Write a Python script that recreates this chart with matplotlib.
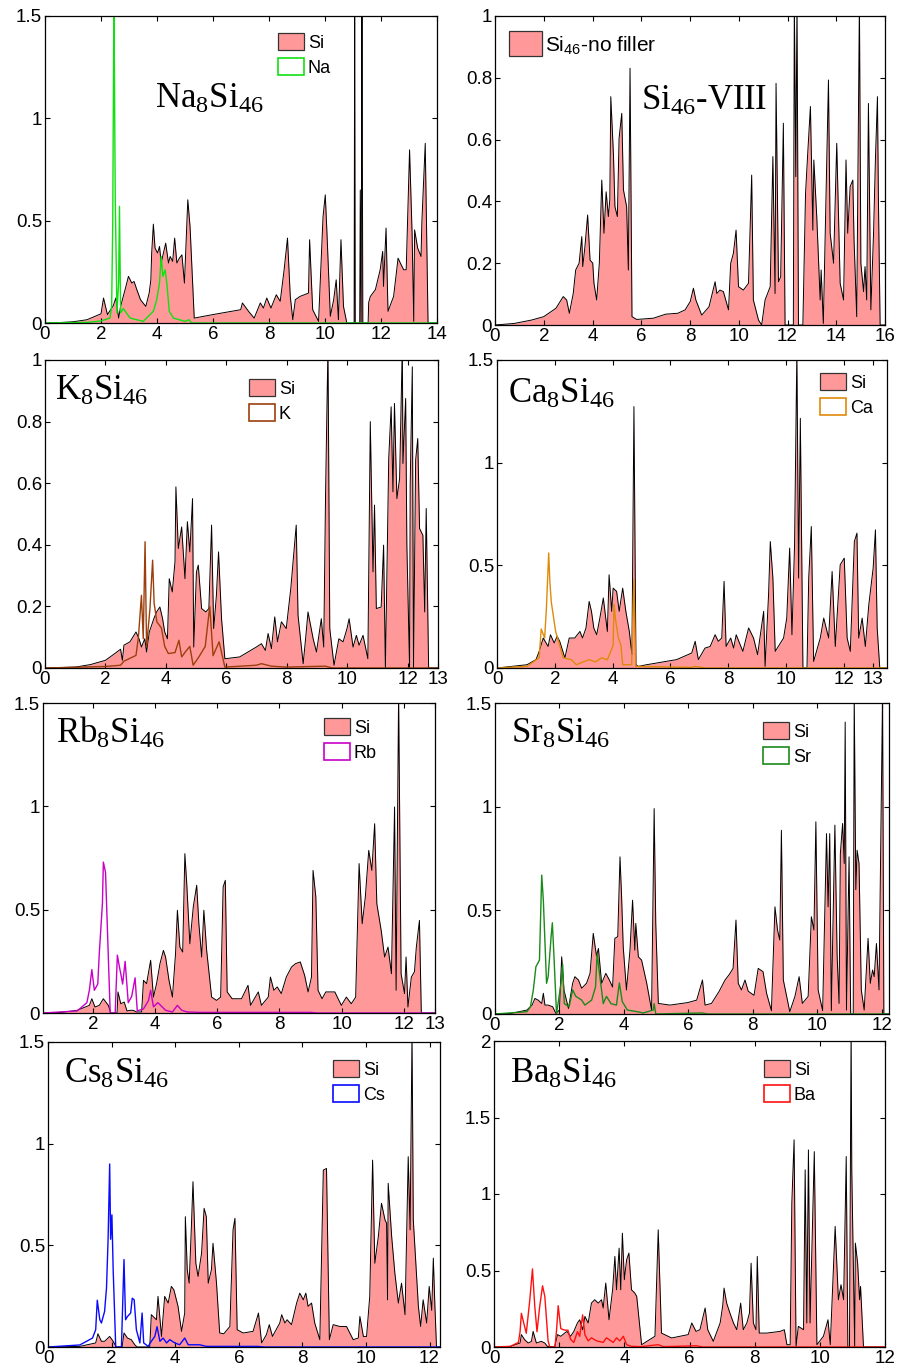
import numpy as np
import matplotlib
matplotlib.use("Agg")
import matplotlib.pyplot as plt
from matplotlib.patches import Patch

plt.rcParams["font.family"] = ["Liberation Sans", "DejaVu Sans"]
plt.rcParams["mathtext.fontset"] = "custom"
plt.rcParams["mathtext.rm"] = "Liberation Serif"
plt.rcParams["mathtext.sf"] = "Liberation Sans"
plt.rcParams["mathtext.it"] = "Liberation Serif:italic"

# ---- data: (frequency, DOS) pairs ----
na_si = [(0, 0), (0.5, 0.002), (1.0, 0.006), (1.5, 0.016), (2.0, 0.045), (2.09, 0.122), (2.23, 0.041),
         (2.44, 0.085), (2.53, 0.122), (2.63, 0.024), (2.70, 0.081), (2.86, 0.163), (2.98, 0.228), (3.10, 0.195),
         (3.18, 0.203), (3.28, 0.163), (3.41, 0.114), (3.60, 0.081), (3.72, 0.146), (3.78, 0.211), (3.81, 0.342),
         (3.87, 0.483), (3.93, 0.366), (4.02, 0.342), (4.09, 0.374), (4.15, 0.293), (4.23, 0.342), (4.31, 0.39),
         (4.41, 0.293), (4.47, 0.325), (4.56, 0.301), (4.63, 0.415), (4.71, 0.293), (4.80, 0.317), (4.89, 0.333),
         (4.98, 0.195), (5.10, 0.602), (5.18, 0.472), (5.33, 0.024), (5.99, 0.041), (6.99, 0.065), (7.05, 0.098),
         (7.27, 0.057), (7.47, 0.024), (7.69, 0.098), (7.80, 0.073), (7.92, 0.122), (8.07, 0.073), (8.26, 0.138),
         (8.40, 0.106), (8.54, 0.26), (8.66, 0.415), (8.76, 0.13), (8.85, 0.016), (8.94, 0.114), (9.11, 0.13),
         (9.26, 0.138), (9.41, 0.146), (9.45, 0.407), (9.56, 0.065), (9.77, 0.008), (9.93, 0.52), (10.01, 0.626),
         (10.07, 0.44), (10.19, 0.033), (10.31, 0.114), (10.40, 0.211), (10.48, 0.016), (10.57, 0.407),
         (10.66, 0.081), (10.78, 0.0), (11.04, 0.0), (11.06, 1.6), (11.08, 0.0), (11.24, 0.0), (11.26, 0.65),
         (11.29, 0.0), (11.32, 1.6), (11.35, 0.0), (11.54, 0.0), (11.56, 0.1), (11.62, 0.13), (11.80, 0.163),
         (11.97, 0.26), (12.06, 0.35), (12.09, 0.179), (12.18, 0.464), (12.25, 0.057), (12.45, 0.13),
         (12.61, 0.317), (12.69, 0.293), (12.81, 0.26), (12.90, 0.26), (13.02, 0.846), (13.11, 0.44),
         (13.17, 0.008), (13.20, 0.455), (13.31, 0.366), (13.43, 0.325), (13.46, 0.496), (13.58, 0.878),
         (13.68, 0.0), (14, 0)]
na_na = [(0, 0), (1.5, 0.003), (2.0, 0.01), (2.32, 0.024), (2.38, 0.08), (2.42, 0.5), (2.46, 1.6), (2.51, 0.6),
         (2.57, 0.05), (2.63, 0.2), (2.66, 0.57), (2.70, 0.05), (2.80, 0.07), (3.04, 0.024), (3.51, 0.008),
         (3.69, 0.033), (3.87, 0.057), (3.99, 0.114), (4.09, 0.195), (4.15, 0.325), (4.21, 0.228), (4.29, 0.26),
         (4.35, 0.195), (4.44, 0.057), (4.59, 0.024), (5.00, 0.008), (5.14, 0.016), (5.24, 0.0), (14, 0)]

si46_si = [(0, 0), (0.79, 0.005), (1.50, 0.016), (2.0, 0.027), (2.50, 0.054), (2.80, 0.092), (2.94, 0.081),
           (3.05, 0.038), (3.21, 0.102), (3.31, 0.178), (3.45, 0.2), (3.56, 0.286), (3.60, 0.189), (3.69, 0.254),
           (3.80, 0.356), (3.90, 0.21), (4.01, 0.2), (4.06, 0.135), (4.17, 0.081), (4.28, 0.2), (4.38, 0.469),
           (4.47, 0.297), (4.56, 0.431), (4.65, 0.351), (4.71, 0.405), (4.75, 0.739), (4.86, 0.55), (4.92, 0.383),
           (5.02, 0.351), (5.09, 0.604), (5.20, 0.685), (5.27, 0.437), (5.40, 0.383), (5.47, 0.178), (5.54, 0.831),
           (5.62, 0.027), (5.81, 0.018), (6.50, 0.022), (7.00, 0.035), (7.50, 0.038), (7.80, 0.049), (8.01, 0.076),
           (8.14, 0.119), (8.24, 0.081), (8.48, 0.032), (8.78, 0.059), (9.03, 0.14), (9.10, 0.102), (9.23, 0.113),
           (9.37, 0.108), (9.58, 0.049), (9.67, 0.2), (9.78, 0.232), (9.89, 0.307), (9.99, 0.124), (10.19, 0.113),
           (10.40, 0.135), (10.53, 0.485), (10.60, 0.081), (10.81, 0.016), (10.94, 0.0), (11.08, 0.081),
           (11.29, 0.124), (11.40, 0.545), (11.49, 0.102), (11.53, 0.782), (11.63, 0.14), (11.72, 0.156),
           (11.83, 0.653), (11.90, 0.0), (12.24, 0.0), (12.28, 1.05), (12.34, 0.48), (12.39, 1.05), (12.45, 0.0),
           (12.63, 0.0), (12.74, 0.426), (12.83, 0.556), (12.94, 0.707), (13.04, 0.307), (13.08, 0.534),
           (13.20, 0.351), (13.34, 0.081), (13.38, 0.178), (13.47, 0.005), (13.68, 0.793), (13.75, 0.297),
           (13.89, 0.2), (14.02, 0.588), (14.16, 0.135), (14.30, 0.081), (14.40, 0.534), (14.47, 0.297),
           (14.57, 0.448), (14.68, 0.469), (14.73, 0.275), (14.84, 0.027), (14.95, 1.05), (15.01, 0.2),
           (15.12, 0.108), (15.18, 0.189), (15.25, 0.081), (15.32, 0.717), (15.42, 0.049), (15.53, 0.297),
           (15.61, 0.545), (15.69, 0.739), (15.73, 0.405), (15.80, 0.0), (16, 0)]

k_si = [(0, 0), (1.0, 0.003), (1.5, 0.011), (2.0, 0.025), (2.31, 0.047), (2.50, 0.061), (2.56, 0.025), (2.61, 0.074),
        (2.81, 0.085), (3.01, 0.117), (3.11, 0.095), (3.19, 0.068), (3.30, 0.095), (3.36, 0.052), (3.45, 0.117),
        (3.60, 0.16), (3.69, 0.182), (3.80, 0.198), (3.89, 0.16), (3.96, 0.117), (4.05, 0.095), (4.11, 0.29),
        (4.21, 0.247), (4.30, 0.345), (4.33, 0.588), (4.41, 0.388), (4.52, 0.458), (4.63, 0.29), (4.71, 0.475),
        (4.79, 0.377), (4.88, 0.55), (4.92, 0.068), (5.01, 0.312), (5.07, 0.334), (5.18, 0.193), (5.32, 0.182),
        (5.42, 0.193), (5.51, 0.464), (5.58, 0.128), (5.67, 0.236), (5.74, 0.377), (5.84, 0.16), (5.95, 0.03),
        (6.44, 0.036), (6.99, 0.068), (7.16, 0.079), (7.29, 0.057), (7.38, 0.112), (7.49, 0.063), (7.60, 0.166),
        (7.69, 0.085), (7.82, 0.15), (7.98, 0.128), (8.13, 0.258), (8.31, 0.464), (8.37, 0.171), (8.54, 0.014),
        (8.62, 0.095), (8.70, 0.182), (8.87, 0.095), (8.98, 0.052), (9.14, 0.16), (9.22, 0.068), (9.28, 0.561),
        (9.36, 1.05), (9.42, 0.128), (9.56, 0.009), (9.72, 0.095), (9.86, 0.085), (9.99, 0.128), (10.06, 0.16),
        (10.19, 0.068), (10.30, 0.106), (10.39, 0.074), (10.52, 0.106), (10.68, 0.03), (10.76, 0.8),
        (10.85, 0.312), (10.90, 0.529), (10.96, 0.193), (11.12, 0.198), (11.20, 0.399), (11.26, 0.0),
        (11.37, 0.68), (11.45, 0.848), (11.51, 0.572), (11.56, 0.859), (11.64, 0.55), (11.73, 0.615),
        (11.82, 1.05), (11.84, 0.664), (11.93, 0.875), (11.97, 0.399), (12.06, 0.0), (12.08, 0.594),
        (12.15, 0.978), (12.19, 0.0), (12.26, 0.675), (12.33, 0.745), (12.39, 0.453), (12.50, 0.431),
        (12.56, 0.182), (12.61, 0.518), (12.69, 0.0), (13, 0)]
k_k = [(0, 0), (2.0, 0.005), (2.50, 0.009), (2.61, 0.022), (3.01, 0.041), (3.09, 0.1), (3.19, 0.236), (3.25, 0.095),
       (3.31, 0.41), (3.36, 0.07), (3.47, 0.19), (3.56, 0.35), (3.61, 0.21), (3.70, 0.15), (3.85, 0.13), (3.96, 0.07),
       (4.08, 0.047), (4.30, 0.05), (4.43, 0.09), (4.52, 0.036), (4.68, 0.057), (4.79, 0.07), (4.90, 0.009),
       (5.09, 0.036), (5.30, 0.07), (5.45, 0.2), (5.56, 0.04), (5.76, 0.085), (5.84, 0.05), (5.95, 0.003),
       (6.99, 0.009), (7.16, 0.014), (7.49, 0.006), (7.98, 0.003), (9.28, 0.006), (9.50, 0.0), (13, 0)]

ca_si = [(0, 0), (1.04, 0.016), (1.35, 0.041), (1.46, 0.081), (1.60, 0.146), (1.77, 0.105), (1.85, 0.162),
         (1.98, 0.122), (2.08, 0.154), (2.17, 0.13), (2.35, 0.049), (2.50, 0.146), (2.69, 0.146), (2.87, 0.178),
         (2.96, 0.146), (3.08, 0.195), (3.19, 0.324), (3.27, 0.276), (3.35, 0.195), (3.45, 0.162), (3.56, 0.243),
         (3.68, 0.341), (3.82, 0.178), (3.88, 0.454), (3.97, 0.276), (4.02, 0.389), (4.14, 0.373), (4.23, 0.276),
         (4.35, 0.389), (4.46, 0.276), (4.58, 0.178), (4.67, 0.065), (4.74, 1.273), (4.81, 0.016), (4.89, 0.008),
         (5.18, 0.016), (6.22, 0.041), (6.74, 0.073), (6.86, 0.13), (6.97, 0.041), (7.20, 0.097), (7.38, 0.105),
         (7.55, 0.162), (7.66, 0.13), (7.78, 0.146), (7.86, 0.422), (7.93, 0.105), (8.09, 0.146), (8.19, 0.097),
         (8.28, 0.162), (8.51, 0.081), (8.71, 0.195), (8.88, 0.146), (9.02, 0.065), (9.23, 0.276), (9.28, 0.008),
         (9.40, 0.357), (9.46, 0.616), (9.55, 0.438), (9.63, 0.081), (9.92, 0.146), (10.03, 0.243),
         (10.13, 0.584), (10.21, 0.162), (10.30, 0.6), (10.38, 1.55), (10.44, 0.438), (10.50, 1.216),
         (10.59, 0.0), (10.73, 0.0), (10.79, 0.438), (10.88, 0.689), (10.96, 0.032), (11.19, 0.146),
         (11.31, 0.243), (11.48, 0.146), (11.60, 0.47), (11.71, 0.105), (11.88, 0.503), (12.02, 0.535),
         (12.12, 0.146), (12.23, 0.081), (12.37, 0.616), (12.46, 0.657), (12.52, 0.146), (12.64, 0.243),
         (12.75, 0.105), (12.87, 0.308), (13.02, 0.486), (13.10, 0.673), (13.16, 0.195), (13.25, 0.0), (13.5, 0)]
ca_ca = [(0, 0), (1.04, 0.008), (1.46, 0.05), (1.53, 0.19), (1.65, 0.146), (1.71, 0.29), (1.79, 0.56), (1.83, 0.42),
         (1.88, 0.32), (2.03, 0.178), (2.17, 0.11), (2.29, 0.05), (2.58, 0.04), (2.75, 0.016), (2.98, 0.03),
         (3.19, 0.04), (3.42, 0.03), (3.62, 0.05), (3.82, 0.04), (4.02, 0.11), (4.05, 0.31), (4.10, 0.24),
         (4.20, 0.146), (4.29, 0.11), (4.35, 0.016), (4.66, 0.016), (4.74, 0.43), (4.80, 0.008), (6.74, 0.003),
         (6.86, 0.008), (7.2, 0), (13.5, 0)]

rb_si = [(0.4, 0), (0.99, 0.003), (1.50, 0.013), (1.89, 0.037), (1.97, 0.069), (2.07, 0.029), (2.21, 0.037),
         (2.34, 0.069), (2.50, 0.037), (2.58, 0.0), (2.78, 0.0), (2.81, 0.102), (2.90, 0.045), (3.01, 0.053),
         (3.10, 0.01), (3.20, 0.013), (3.30, 0.013), (3.41, 0.005), (3.57, 0.005), (3.63, 0.158), (3.73, 0.142),
         (3.86, 0.255), (3.95, 0.077), (4.05, 0.142), (4.16, 0.239), (4.27, 0.303), (4.34, 0.271), (4.45, 0.158),
         (4.56, 0.077), (4.66, 0.287), (4.72, 0.497), (4.80, 0.319), (4.89, 0.295), (4.96, 0.771), (5.02, 0.626),
         (5.12, 0.335), (5.23, 0.513), (5.34, 0.618), (5.41, 0.432), (5.50, 0.271), (5.57, 0.497), (5.66, 0.303),
         (5.82, 0.077), (5.98, 0.061), (6.11, 0.077), (6.19, 0.61), (6.26, 0.642), (6.32, 0.102), (6.48, 0.069),
         (6.78, 0.069), (6.99, 0.134), (7.07, 0.037), (7.32, 0.102), (7.42, 0.037), (7.64, 0.077), (7.71, 0.174),
         (7.82, 0.11), (7.93, 0.126), (8.06, 0.094), (8.22, 0.174), (8.39, 0.223), (8.52, 0.239), (8.67, 0.247),
         (8.81, 0.182), (8.92, 0.102), (9.03, 0.174), (9.08, 0.69), (9.17, 0.561), (9.24, 0.11), (9.37, 0.069),
         (9.49, 0.102), (9.78, 0.102), (9.99, 0.037), (10.15, 0.077), (10.31, 0.045), (10.45, 0.077),
         (10.56, 0.723), (10.66, 0.432), (10.76, 0.561), (10.87, 0.787), (10.97, 0.69), (11.06, 0.916),
         (11.13, 0.529), (11.27, 0.4), (11.38, 0.271), (11.49, 0.319), (11.60, 0.19), (11.70, 0.997),
         (11.75, 0.11), (11.83, 1.55), (11.91, 0.19), (12.02, 0.094), (12.07, 0.271), (12.13, 0.029),
         (12.24, 0.174), (12.34, 0.2), (12.40, 0.319), (12.50, 0.448), (12.56, 0.0), (13, 0)]
rb_rb = [(0.4, 0), (1.50, 0.01), (1.81, 0.05), (1.89, 0.11), (1.97, 0.21), (2.05, 0.11), (2.16, 0.14), (2.21, 0.29),
         (2.31, 0.53), (2.34, 0.73), (2.41, 0.68), (2.50, 0.27), (2.56, 0.0), (2.72, 0.0), (2.79, 0.28), (2.86, 0.22),
         (2.90, 0.19), (2.96, 0.14), (3.04, 0.25), (3.14, 0.05), (3.25, 0.08), (3.36, 0.17), (3.43, 0.01),
         (3.63, 0.02), (3.79, 0.06), (3.86, 0.11), (3.95, 0.03), (4.09, 0.05), (4.16, 0.04), (4.34, 0.013),
         (4.56, 0.005), (4.72, 0.037), (4.86, 0.013), (5.04, 0.005), (5.44, 0.003), (9.03, 0.003), (9.2, 0), (13, 0)]

sr_si = [(0, 0), (0.50, 0.003), (0.99, 0.019), (1.15, 0.043), (1.24, 0.075), (1.34, 0.067), (1.45, 0.051),
         (1.50, 0.1), (1.55, 0.043), (1.65, 0.043), (1.79, 0.035), (1.89, 0.003), (2.0, 0.019), (2.07, 0.276),
         (2.14, 0.116), (2.28, 0.027), (2.41, 0.148), (2.48, 0.18), (2.59, 0.164), (2.69, 0.124), (2.84, 0.148),
         (2.95, 0.196), (3.05, 0.389), (3.15, 0.28), (3.21, 0.316), (3.31, 0.148), (3.44, 0.196), (3.55, 0.164),
         (3.65, 0.13), (3.72, 0.365), (3.81, 0.373), (3.88, 0.758), (3.93, 0.565), (3.98, 0.324), (4.08, 0.116),
         (4.19, 0.308), (4.27, 0.549), (4.34, 0.308), (4.37, 0.437), (4.45, 0.276), (4.55, 0.26), (4.71, 0.148),
         (4.86, 0.019), (4.94, 0.991), (4.99, 0.437), (5.07, 0.051), (5.43, 0.043), (5.98, 0.055), (6.26, 0.067),
         (6.44, 0.164), (6.52, 0.043), (6.72, 0.051), (6.96, 0.11), (7.14, 0.164), (7.27, 0.19), (7.39, 0.22),
         (7.48, 0.453), (7.55, 0.148), (7.65, 0.116), (7.76, 0.164), (7.86, 0.11), (8.04, 0.09), (8.17, 0.22),
         (8.32, 0.204), (8.43, 0.1), (8.58, 0.016), (8.69, 0.517), (8.77, 0.405), (8.84, 0.357), (8.89, 0.886),
         (8.95, 0.164), (9.15, 0.011), (9.31, 0.085), (9.44, 0.18), (9.54, 0.051), (9.72, 0.085), (9.82, 0.469),
         (9.90, 0.405), (9.96, 0.927), (10.03, 0.116), (10.17, 0.016), (10.29, 0.87), (10.34, 0.517),
         (10.39, 0.87), (10.44, 0.016), (10.55, 0.911), (10.62, 0.28), (10.68, 0.051), (10.72, 0.774),
         (10.79, 0.919), (10.84, 0.726), (10.87, 1.408), (10.91, 0.019), (10.99, 0.758), (11.04, 0.0),
         (11.12, 0.0), (11.15, 1.55), (11.20, 0.6), (11.24, 0.79), (11.30, 0.726), (11.37, 0.116), (11.46, 0.019),
         (11.58, 0.365), (11.65, 0.148), (11.72, 0.212), (11.77, 0.18), (11.84, 0.34), (11.92, 0.116),
         (12.03, 1.55), (12.07, 0.0), (12.23, 0)]
sr_sr = [(0, 0), (0.99, 0.011), (1.10, 0.035), (1.19, 0.116), (1.27, 0.228), (1.38, 0.26), (1.45, 0.67), (1.50, 0.55),
         (1.60, 0.148), (1.65, 0.18), (1.74, 0.37), (1.78, 0.44), (1.83, 0.28), (1.91, 0.0), (2.05, 0.15),
         (2.10, 0.24), (2.15, 0.05), (2.30, 0.035), (2.41, 0.116), (2.51, 0.085), (2.69, 0.067), (2.79, 0.043),
         (3.0, 0.067), (3.12, 0.13), (3.17, 0.29), (3.28, 0.15), (3.36, 0.05), (3.46, 0.085), (3.60, 0.05),
         (3.77, 0.043), (3.86, 0.15), (3.95, 0.06), (4.11, 0.019), (4.42, 0.011), (4.60, 0.005), (4.91, 0.019),
         (4.94, 0.05), (4.99, 0.0), (6.43, 0.005), (6.6, 0), (12.23, 0)]

cs_si = [(0, 0), (1.0, 0.003), (1.50, 0.02), (1.57, 0.065), (1.68, 0.028), (1.78, 0.028), (1.94, 0.052),
         (2.05, 0.028), (2.15, 0.0), (2.33, 0.0), (2.39, 0.069), (2.50, 0.044), (2.62, 0.036), (2.73, 0.011),
         (2.80, 0.0), (3.20, 0.0), (3.25, 0.159), (3.41, 0.134), (3.46, 0.249), (3.57, 0.052), (3.67, 0.249),
         (3.78, 0.216), (3.88, 0.298), (3.96, 0.281), (4.09, 0.2), (4.20, 0.077), (4.30, 0.167), (4.32, 0.641),
         (4.38, 0.38), (4.44, 0.314), (4.51, 0.592), (4.56, 0.813), (4.65, 0.412), (4.72, 0.347), (4.83, 0.461),
         (4.91, 0.682), (4.98, 0.641), (5.04, 0.314), (5.14, 0.38), (5.19, 0.51), (5.30, 0.314), (5.40, 0.069),
         (5.53, 0.065), (5.72, 0.101), (5.82, 0.576), (5.88, 0.633), (5.95, 0.085), (6.14, 0.069), (6.45, 0.077),
         (6.62, 0.167), (6.72, 0.02), (6.87, 0.061), (6.96, 0.11), (7.06, 0.052), (7.29, 0.118), (7.35, 0.159),
         (7.45, 0.118), (7.52, 0.134), (7.66, 0.11), (7.82, 0.216), (7.92, 0.265), (8.03, 0.232), (8.11, 0.265),
         (8.18, 0.2), (8.29, 0.216), (8.39, 0.118), (8.55, 0.036), (8.66, 0.87), (8.76, 0.878), (8.85, 0.036),
         (8.97, 0.11), (9.18, 0.101), (9.39, 0.101), (9.60, 0.036), (9.76, 0.044), (9.81, 0.15), (9.92, 0.052),
         (10.02, 0.052), (10.12, 0.249), (10.21, 0.919), (10.28, 0.412), (10.39, 0.543), (10.49, 0.707),
         (10.60, 0.625), (10.65, 0.609), (10.68, 0.232), (10.70, 0.805), (10.81, 0.543), (10.91, 0.363),
         (11.02, 0.216), (11.12, 0.314), (11.23, 0.159), (11.33, 0.936), (11.39, 0.576), (11.45, 1.55),
         (11.49, 0.625), (11.57, 0.412), (11.65, 0.2), (11.72, 0.101), (11.80, 0.232), (11.91, 0.118),
         (11.99, 0.298), (12.07, 0.18), (12.12, 0.437), (12.17, 0.2), (12.22, 0.0), (12.33, 0)]
cs_cs = [(0, 0), (1.0, 0.01), (1.40, 0.044), (1.50, 0.085), (1.55, 0.23), (1.63, 0.134), (1.68, 0.118), (1.78, 0.175),
         (1.84, 0.29), (1.89, 0.53), (1.94, 0.9), (1.97, 0.53), (2.01, 0.65), (2.05, 0.38), (2.13, 0.0), (2.31, 0.0),
         (2.39, 0.43), (2.44, 0.134), (2.50, 0.15), (2.60, 0.167), (2.65, 0.24), (2.71, 0.232), (2.78, 0.085),
         (2.89, 0.02), (2.96, 0.167), (3.01, 0.02), (3.15, 0.003), (3.25, 0.028), (3.36, 0.052), (3.43, 0.1),
         (3.52, 0.028), (3.62, 0.044), (3.73, 0.02), (3.83, 0.036), (3.99, 0.02), (4.14, 0.011), (4.30, 0.044),
         (4.41, 0.011), (4.77, 0.011), (4.98, 0.003), (6.6, 0.003), (6.8, 0), (12.33, 0)]

ba_si = [(0, 0), (0.50, 0.004), (0.80, 0.026), (0.84, 0.081), (0.94, 0.048), (1.05, 0.026), (1.15, 0.037),
         (1.20, 0.102), (1.30, 0.026), (1.45, 0.037), (1.56, 0.026), (1.64, 0.004), (1.86, 0.0), (1.95, 0.081),
         (2.05, 0.07), (2.17, 0.091), (2.24, 0.102), (2.35, 0.07), (2.45, 0.102), (2.56, 0.157), (2.63, 0.178),
         (2.72, 0.113), (2.79, 0.2), (2.89, 0.157), (2.99, 0.287), (3.09, 0.309), (3.20, 0.287), (3.30, 0.309),
         (3.35, 0.255), (3.43, 0.418), (3.53, 0.178), (3.64, 0.374), (3.71, 0.592), (3.76, 0.374), (3.84, 0.646),
         (3.89, 0.374), (3.94, 0.744), (4.0, 0.44), (4.07, 0.57), (4.14, 0.614), (4.22, 0.374), (4.32, 0.353),
         (4.38, 0.331), (4.53, 0.015), (4.94, 0.07), (5.04, 0.766), (5.14, 0.091), (5.45, 0.059), (5.96, 0.081),
         (6.07, 0.157), (6.20, 0.102), (6.32, 0.113), (6.48, 0.255), (6.56, 0.113), (6.73, 0.037), (6.94, 0.157),
         (7.02, 0.27), (7.06, 0.385), (7.14, 0.287), (7.24, 0.222), (7.35, 0.157), (7.45, 0.113), (7.57, 0.287),
         (7.65, 0.113), (7.76, 0.157), (7.84, 0.222), (7.89, 0.548), (7.96, 0.157), (8.04, 0.113), (8.08, 0.592),
         (8.14, 0.091), (8.37, 0.091), (8.78, 0.102), (8.91, 0.113), (8.99, 0.015), (9.09, 0.015), (9.14, 0.94),
         (9.21, 1.354), (9.27, 0.004), (9.34, 0.135), (9.50, 0.113), (9.55, 1.158), (9.60, 0.157), (9.65, 1.288),
         (9.70, 0.157), (9.83, 1.277), (9.91, 0.015), (10.11, 0.07), (10.25, 0.178), (10.32, 0.015),
         (10.47, 0.788), (10.57, 0.309), (10.65, 0.407), (10.73, 0.309), (10.81, 1.245), (10.86, 0.0),
         (10.91, 0.0), (10.96, 2.1), (10.98, 1.158), (11.07, 0.004), (11.09, 0.679), (11.16, 0.548),
         (11.22, 0.309), (11.25, 0.396), (11.34, 0.0), (12, 0)]
ba_ba = [(0, 0), (0.5, 0.004), (0.75, 0.03), (0.80, 0.1), (0.84, 0.22), (0.99, 0.09), (1.10, 0.31), (1.18, 0.51),
         (1.25, 0.27), (1.32, 0.1), (1.40, 0.26), (1.49, 0.4), (1.56, 0.33), (1.66, 0.04), (1.71, 0.0), (1.87, 0.0),
         (1.92, 0.11), (1.97, 0.27), (2.05, 0.12), (2.17, 0.11), (2.27, 0.11), (2.35, 0.05), (2.45, 0.03),
         (2.56, 0.1), (2.63, 0.07), (2.72, 0.21), (2.79, 0.08), (2.89, 0.04), (2.99, 0.06), (3.15, 0.04),
         (3.35, 0.03), (3.45, 0.06), (3.66, 0.03), (3.76, 0.06), (3.86, 0.04), (3.97, 0.07), (4.07, 0.015),
         (4.22, 0.004), (4.5, 0.002), (5.04, 0.015), (5.2, 0.002), (6.2, 0.008), (6.4, 0.0), (12, 0)]

# ---- panel setup: name, Si data, filler data, filler label, colour, limits, ticks ----
W, H = 901, 1367
PINK = "#ff9999"
panels = [
    dict(title=r"$\mathrm{Na_8Si_{46}}$", si=na_si, fil=na_na, lab="Na", col="#10e010",
         xlim=(0, 14), ylim=(0, 1.5), xt=[0, 2, 4, 6, 8, 10, 12, 14], yt=[0, 0.5, 1, 1.5],
         box=(45, 16, 437, 323), tpos=(155, 108), lpos=(278, 33)),
    dict(title=r"$\mathrm{Si_{46}}$-VIII", si=si46_si, fil=None, lab=None, col=None,
         xlim=(0, 16), ylim=(0, 1), xt=[0, 2, 4, 6, 8, 10, 12, 14, 16], yt=[0, 0.2, 0.4, 0.6, 0.8, 1],
         box=(495, 16, 885, 325), tpos=(641, 110), lpos=(509, 31)),
    dict(title=r"$\mathrm{K_8Si_{46}}$", si=k_si, fil=k_k, lab="K", col="#9c3f0c",
         xlim=(0, 13), ylim=(0, 1), xt=[0, 2, 4, 6, 8, 10, 12, 13], yt=[0, 0.2, 0.4, 0.6, 0.8, 1],
         box=(45, 360, 438, 668), tpos=(55, 400), lpos=(249, 379)),
    dict(title=r"$\mathrm{Ca_8Si_{46}}$", si=ca_si, fil=ca_ca, lab="Ca", col="#e08a0a",
         xlim=(0, 13.5), ylim=(0, 1.5), xt=[0, 2, 4, 6, 8, 10, 12, 13], yt=[0, 0.5, 1, 1.5],
         box=(497, 360, 887, 668), tpos=(508, 403), lpos=(820, 373)),
    dict(title=r"$\mathrm{Rb_8Si_{46}}$", si=rb_si, fil=rb_rb, lab="Rb", col="#c800c8",
         xlim=(0.4, 13), ylim=(0, 1.5), xt=[2, 4, 6, 8, 10, 12, 13], yt=[0, 0.5, 1, 1.5],
         box=(43, 703, 435, 1013), tpos=(56, 743), lpos=(324, 718)),
    dict(title=r"$\mathrm{Sr_8Si_{46}}$", si=sr_si, fil=sr_sr, lab="Sr", col="#1a8a1a",
         xlim=(0, 12.23), ylim=(0, 1.5), xt=[0, 2, 4, 6, 8, 10, 12], yt=[0, 0.5, 1, 1.5],
         box=(495, 703, 889, 1014), tpos=(511, 743), lpos=(763, 722)),
    dict(title=r"$\mathrm{Cs_8Si_{46}}$", si=cs_si, fil=cs_cs, lab="Cs", col="#0a0aff",
         xlim=(0, 12.33), ylim=(0, 1.5), xt=[0, 2, 4, 6, 8, 10, 12], yt=[0, 0.5, 1, 1.5],
         box=(48, 1042, 440, 1347), tpos=(64, 1083), lpos=(333, 1060)),
    dict(title=r"$\mathrm{Ba_8Si_{46}}$", si=ba_si, fil=ba_ba, lab="Ba", col="#ff1010",
         xlim=(0, 12), ylim=(0, 2), xt=[0, 2, 4, 6, 8, 10, 12], yt=[0, 0.5, 1, 1.5, 2],
         box=(494, 1041, 885, 1347), tpos=(510, 1083), lpos=(764, 1060)),
]

fig = plt.figure(figsize=(W / 100, H / 100), dpi=100)

for p in panels:
    l, t, r, b = p["box"]
    ax = fig.add_axes([l / W, 1 - b / H, (r - l) / W, (b - t) / H])
    x, y = np.array(p["si"]).T
    ax.fill_between(x, y, color=PINK, lw=0)
    ax.plot(x, y, color="black", lw=0.7)
    handles = [Patch(facecolor=PINK, edgecolor="#333333", lw=0.9)]
    labels = ["Si"]
    if p["fil"] is not None:
        fx, fy = np.array(p["fil"]).T
        ax.plot(fx, fy, color=p["col"], lw=1.0)
        handles.append(Patch(facecolor="white", edgecolor=p["col"], lw=1.2))
        labels.append(p["lab"])
    ax.set_xlim(*p["xlim"])
    ax.set_ylim(*p["ylim"])
    ax.set_xticks(p["xt"])
    ax.set_xticklabels([f"{v:g}" for v in p["xt"]])
    ax.set_yticks(p["yt"])
    ax.set_yticklabels([f"{v:g}" for v in p["yt"]])
    ax.tick_params(direction="in", top=True, right=True, length=3.5, width=0.8,
                   labelsize=13.5, pad=2)
    for s in ax.spines.values():
        s.set_linewidth(0.9)

    # legend anchored at top-left of the first handle
    lx = (p["lpos"][0] - l) / (r - l)
    ly = (b - p["lpos"][1]) / (b - t)
    if p["fil"] is None:
        ax.legend(handles, [r"Si$_{\mathsf{46}}$-no filler"], loc="upper left", bbox_to_anchor=(lx, ly),
                  frameon=False, borderpad=0, borderaxespad=0, fontsize=15,
                  handlelength=1.6, handleheight=1.5, handletextpad=0.15)
    else:
        ax.legend(handles, labels, loc="upper left", bbox_to_anchor=(lx, ly),
                  frameon=False, borderpad=0, borderaxespad=0, fontsize=13,
                  handlelength=1.45, handleheight=1.1, handletextpad=0.2, labelspacing=0.35)

    tx = (p["tpos"][0] - l) / (r - l)
    ty = (b - p["tpos"][1]) / (b - t)
    ax.text(tx, ty, p["title"], transform=ax.transAxes, ha="left", va="baseline",
            fontsize=25, family="Liberation Serif")

fig.savefig("out.png", dpi=100)
